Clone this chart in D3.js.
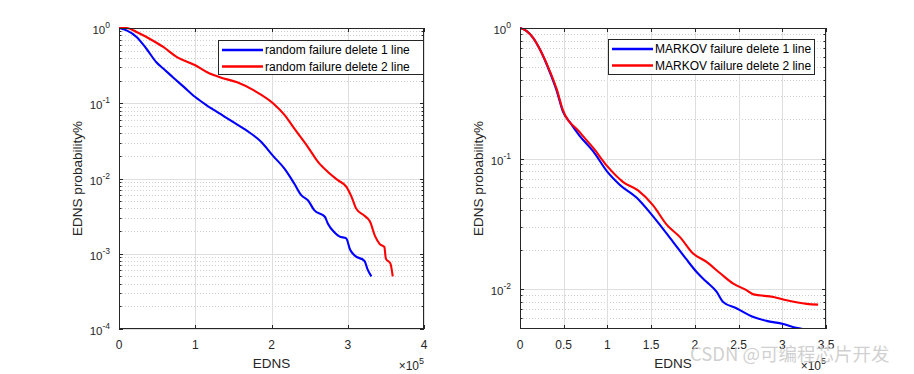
<!DOCTYPE html>
<html><head><meta charset="utf-8">
<script src="https://cdn.jsdelivr.net/npm/d3@7"></script>
<style>body{margin:0;background:#fff}svg{display:block;font-family:"Liberation Sans",Arial,sans-serif}</style>
</head><body><svg id="c" width="914" height="374"></svg>
<script>
// ---- data (EDNS, probability) ----
const randX1 = [0,10000,23000,36000,49000,58000,71000,85000,100000,115000,133000,150000,168000,186000,202000,217000,230000,239000,248000,256000,270000,274000,283000,289000,298000,303000,309000,322000,326000,331000];
const randY1 = [1,0.93,0.76,0.53,0.35,0.29,0.22,0.165,0.121,0.094,0.072,0.056,0.043,0.031,0.020,0.0135,0.0085,0.006,0.0051,0.0038,0.0031,0.0025,0.0019,0.0017,0.0016,0.00114,0.00095,0.0008,0.00062,0.0005];
const randX2 = [0,10000,23000,40000,58000,76000,100000,115000,133000,155000,177000,202000,217000,230000,248000,261000,274000,287000,298000,305000,311000,322000,329000,336000,342000,348000,350000,356000,359000];
const randY2 = [1,1.0,0.885,0.72,0.56,0.41,0.32,0.26,0.22,0.19,0.148,0.1,0.07,0.046,0.026,0.0166,0.0122,0.0095,0.0078,0.0057,0.0040,0.0032,0.0027,0.0017,0.00134,0.00123,0.00086,0.00074,0.0005];
const markX1 = [0,7300,15000,24000,34000,42000,49000,57000,68000,84000,100000,114000,135000,148000,160000,175000,190000,202000,213000,225000,232000,248000,267000,282000,301000,313000,328000,342000];
const markY1 = [1,0.95,0.84,0.66,0.46,0.33,0.23,0.19,0.15,0.113,0.079,0.063,0.049,0.039,0.031,0.023,0.017,0.0135,0.0114,0.0095,0.0080,0.0071,0.0061,0.0057,0.0054,0.0051,0.0049,0.0048];
const markX2 = [0,7300,15000,24000,34000,42000,49000,68000,84000,100000,118000,135000,152000,168000,183000,198000,213000,229000,244000,259000,267000,290000,305000,328000,341000];
const markY2 = [1,0.95,0.84,0.66,0.47,0.34,0.236,0.16,0.12,0.087,0.066,0.057,0.044,0.031,0.025,0.0187,0.0162,0.0132,0.011,0.0098,0.0091,0.0087,0.0082,0.0077,0.0076];
const leftLegend = ["random failure delete 1 line","random failure delete 2 line"];
const rightLegend = ["MARKOV failure delete 1 line","MARKOV failure delete 2 line"];
const leftXTicks = [0,1,2,3,4];
const rightXTicks = [0,0.5,1,1.5,2,2.5,3,3.5];
const leftYTicks = [0,-1,-2,-3,-4];
const rightYTicks = [0,-1,-2];
const colors = ["#0000ff","#ff0000"];

const svg = d3.select("#c");
const ink = "#262626";

function panel(o){
  const g = svg.append("g");
  const x = d3.scaleLinear().domain([0,o.xmax]).range([o.x0,o.x1]);
  const y = d3.scaleLog().domain([o.ymin,1]).range([o.y1,o.y0]);
  const px = v=>Math.round(v)+0.5;
  g.append("rect").attr("x",o.x0).attr("y",o.y0).attr("width",o.x1-o.x0).attr("height",o.y1-o.y0).attr("fill","#fff");
  // minor y grid
  const minors=[];
  for(let e=-5;e<0;e++) for(let m=2;m<=9;m++){const v=m*Math.pow(10,e); if(v>o.ymin*1.0001 && v<1) minors.push(v);}
  g.selectAll(null).data(minors).enter().append("line")
   .attr("x1",o.x0).attr("x2",o.x1).attr("y1",d=>px(y(d))).attr("y2",d=>px(y(d)))
   .attr("stroke","#cfcfcf").attr("stroke-width",1).attr("stroke-dasharray","1,2");
  // major grid
  g.selectAll(null).data(o.yt.map(e=>Math.pow(10,e))).enter().append("line")
   .attr("x1",o.x0).attr("x2",o.x1).attr("y1",d=>px(y(d))).attr("y2",d=>px(y(d)))
   .attr("stroke","#dedede");
  g.selectAll(null).data(o.xt.map(v=>v*1e5)).enter().append("line")
   .attr("y1",o.y0).attr("y2",o.y1).attr("x1",d=>px(x(d))).attr("x2",d=>px(x(d)))
   .attr("stroke","#dedede");
  // lines
  const clipId="clip"+o.id;
  svg.append("clipPath").attr("id",clipId).append("rect").attr("x",o.x0).attr("y",o.y0-2).attr("width",o.x1-o.x0).attr("height",o.y1-o.y0+2);
  o.series.forEach((s,i)=>{
    const pts=s.x.map((v,k)=>[v,s.y[k]]);
    g.append("path").datum(pts).attr("clip-path","url(#"+clipId+")")
     .attr("d",d3.line().curve(d3.curveMonotoneX).x(d=>x(d[0])).y(d=>y(d[1])))
     .attr("fill","none").attr("stroke",colors[i]).attr("stroke-width",2.1).attr("stroke-linejoin","round");
  });
  // box
  g.append("rect").attr("x",o.x0+0.5).attr("y",o.y0+0.5).attr("width",o.x1-o.x0-1).attr("height",o.y1-o.y0-1)
   .attr("fill","none").attr("stroke",ink).attr("stroke-width",1);
  // x ticks (bottom + top)
  const xv=o.xt.map(v=>v*1e5);
  g.selectAll(null).data(xv).enter().append("line")
   .attr("x1",d=>px(x(d))).attr("x2",d=>px(x(d))).attr("y1",o.y1).attr("y2",o.y1-4).attr("stroke",ink);
  g.selectAll(null).data(xv).enter().append("line")
   .attr("x1",d=>px(x(d))).attr("x2",d=>px(x(d))).attr("y1",o.y0).attr("y2",o.y0+4).attr("stroke",ink);
  g.selectAll(null).data(xv).enter().append("text")
   .attr("x",d=>x(d)).attr("y",o.y1+20).attr("text-anchor","middle")
   .attr("font-size",12).attr("fill",ink).text(d=>d3.format("~g")(d/1e5));
  // y ticks
  const yv=o.yt.map(e=>Math.pow(10,e));
  [[o.x0,1],[o.x1,-1]].forEach(([bx,dir])=>{
    g.selectAll(null).data(yv).enter().append("line")
     .attr("x1",bx).attr("x2",bx+dir*4).attr("y1",d=>px(y(d))).attr("y2",d=>px(y(d))).attr("stroke",ink);
    g.selectAll(null).data(minors).enter().append("line")
     .attr("x1",bx).attr("x2",bx+dir*2.5).attr("y1",d=>px(y(d))).attr("y2",d=>px(y(d))).attr("stroke",ink);
  });
  o.yt.forEach(e=>{
    const t=g.append("text").attr("x",o.x0-9).attr("y",y(Math.pow(10,e))+6).attr("text-anchor","end")
      .attr("font-size",11.5).attr("fill",ink);
    t.append("tspan").text("10");
    t.append("tspan").attr("dy",-6).attr("font-size",8.5).text(String(e));
  });
  // labels
  g.append("text").attr("x",(o.x0+o.x1)/2).attr("y",368).attr("text-anchor","middle").attr("font-size",13.5).attr("fill",ink).text("EDNS");
  g.append("text").attr("transform","translate("+(o.x0-37)+","+((o.y0+o.y1)/2)+") rotate(-90)")
   .attr("text-anchor","middle").attr("font-size",13.5).attr("fill",ink).text("EDNS probability%");
  const ex=g.append("text").attr("x",o.x1).attr("y",370).attr("text-anchor","end").attr("font-size",12).attr("fill",ink);
  ex.append("tspan").text("×10");
  ex.append("tspan").attr("dy",-6).attr("font-size",9).text("5");
  // legend
  const L=o.leg;
  g.append("rect").attr("x",L.x+0.5).attr("y",L.y+0.5).attr("width",L.w).attr("height",L.h).attr("fill","#fff").attr("stroke",ink);
  o.legText.forEach((t,i)=>{
    const yy=L.y+10+i*16.5;
    g.append("line").attr("x1",L.x+4).attr("x2",L.x+45).attr("y1",yy).attr("y2",yy).attr("stroke",colors[i]).attr("stroke-width",2.5);
    g.append("text").attr("x",L.x+47).attr("y",yy+4).attr("font-size",12).attr("fill","#000").text(t);
  });
}

panel({id:1,x0:119,x1:424,y0:28,y1:329,xmax:4e5,ymin:1e-4,xt:leftXTicks,yt:leftYTicks,
  series:[{x:randX1,y:randY1},{x:randX2,y:randY2}],legText:leftLegend,leg:{x:218,y:40,w:205,h:34}});
panel({id:2,x0:520,x1:826,y0:28,y1:329,xmax:3.5e5,ymin:0.00494,xt:rightXTicks,yt:rightYTicks,
  series:[{x:markX1,y:markY1},{x:markX2,y:markY2}],legText:rightLegend,leg:{x:608,y:39,w:206,h:35}});

// watermark
svg.append("text").attr("x",690).attr("y",361).attr("font-size",18.5)
  .attr("font-family","'Noto Sans CJK SC','Liberation Sans',sans-serif")
  .attr("fill","#c8c8c8").attr("fill-opacity",0.85).text("CSDN @可编程芯片开发");
</script></body></html>
